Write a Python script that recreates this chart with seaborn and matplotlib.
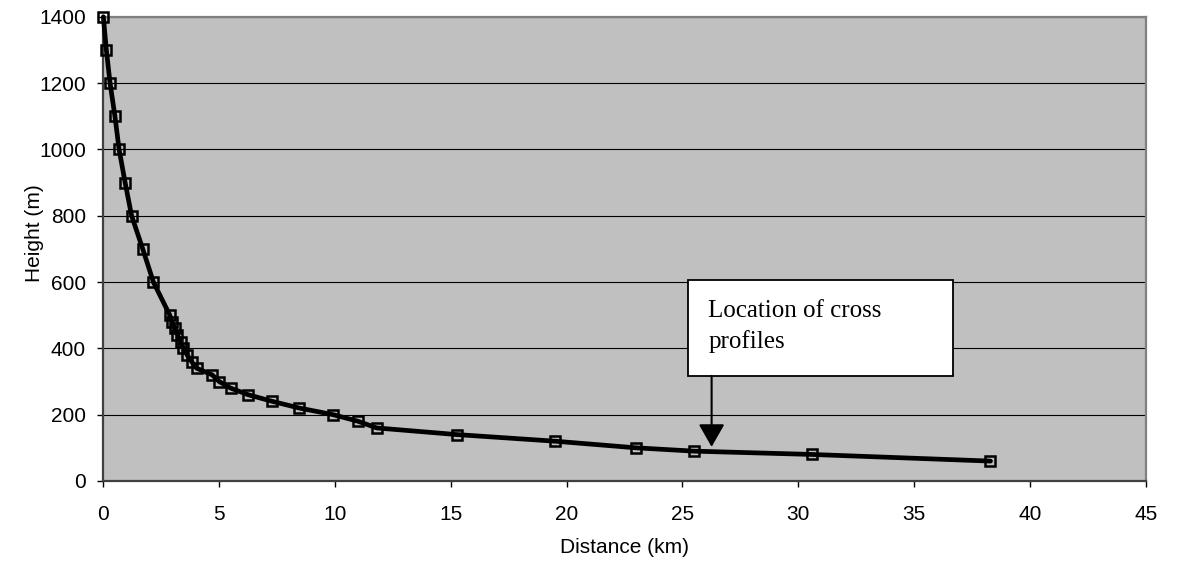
import matplotlib
matplotlib.use("Agg")
import matplotlib.pyplot as plt
from matplotlib.patches import Rectangle
import seaborn as sns
import pandas as pd

# Longitudinal profile: distance along the valley (km) vs. height (m)
distance_km = [0.0, 0.13, 0.29, 0.50, 0.68, 0.94, 1.22, 1.70, 2.16, 2.87,
               2.96, 3.09, 3.20, 3.34, 3.46, 3.62, 3.81, 4.03, 4.70, 5.00,
               5.50, 6.26, 7.30, 8.46, 9.92, 11.0, 11.8, 15.25, 19.5, 23.0,
               25.5, 30.6, 38.3]
height_m = [1400, 1300, 1200, 1100, 1000, 900, 800, 700, 600, 500,
            480, 460, 440, 420, 400, 380, 360, 340, 320, 300,
            280, 260, 240, 220, 200, 180, 160, 140, 120, 100,
            90, 80, 60]

x_ticks = [0, 5, 10, 15, 20, 25, 30, 35, 40, 45]
y_ticks = [0, 200, 400, 600, 800, 1000, 1200, 1400]

annotation_text = "Location of cross\nprofiles"
cross_profile_km = 26.26   # where the cross profiles were taken
arrow_tip_m = 103
arrow_start_m = 317

sns.set_theme(style="white")
plt.rcParams["font.family"] = ["Liberation Sans", "DejaVu Sans"]

df = pd.DataFrame({"Distance (km)": distance_km, "Height (m)": height_m})

fig = plt.figure(figsize=(11.77, 5.67), dpi=100)
ax = fig.add_axes([0.0878, 0.1517, 0.8856, 0.8188])
ax.set_facecolor("#C0C0C0")

sns.lineplot(data=df, x="Distance (km)", y="Height (m)", sort=False,
             estimator=None, color="black", linewidth=3.4, marker="s",
             markersize=7, markerfacecolor="none", markeredgecolor="black",
             markeredgewidth=1.8, ax=ax, zorder=3, clip_on=False)

ax.set_xlim(0, 45)
ax.set_ylim(0, 1400)
ax.set_xticks(x_ticks)
ax.set_yticks(y_ticks)
ax.yaxis.grid(True, color="black", linewidth=0.8)
ax.xaxis.grid(False)
ax.set_axisbelow(True)

ax.tick_params(axis="both", which="major", labelsize=15, colors="black",
               direction="out", length=4, width=1)
ax.tick_params(axis="x", pad=13, bottom=True)
ax.tick_params(axis="y", pad=8.5, left=True)

for side in ("top", "right"):
    ax.spines[side].set_color("#808080")
    ax.spines[side].set_linewidth(1.6)
for side in ("left", "bottom"):
    ax.spines[side].set_color("#404040")
    ax.spines[side].set_linewidth(1.6)

ax.set_xlabel("Distance (km)", fontsize=15, color="black")
ax.set_ylabel("Height (m)", fontsize=15, color="black")
ax.xaxis.set_label_coords(0.5, -0.122)
ax.yaxis.set_label_coords(-0.057, 0.534)

# Text box with arrow pointing at the cross-profile location
box = Rectangle((25.24, arrow_start_m), 36.67 - 25.24, 606 - arrow_start_m,
                facecolor="white", edgecolor="black", linewidth=1.3, zorder=5)
ax.add_patch(box)
ax.text(26.12, 401, annotation_text, fontsize=18, family="Liberation Serif",
        color="black", ha="left", va="baseline", linespacing=1.45, zorder=6)
ax.annotate("", xy=(cross_profile_km, arrow_tip_m),
            xytext=(cross_profile_km, arrow_start_m),
            arrowprops=dict(arrowstyle="-|>,head_length=0.7,head_width=0.4",
                            mutation_scale=20, color="black", linewidth=1.5,
                            shrinkA=0, shrinkB=0),
            zorder=6)

fig.savefig("out.png", dpi=100)
